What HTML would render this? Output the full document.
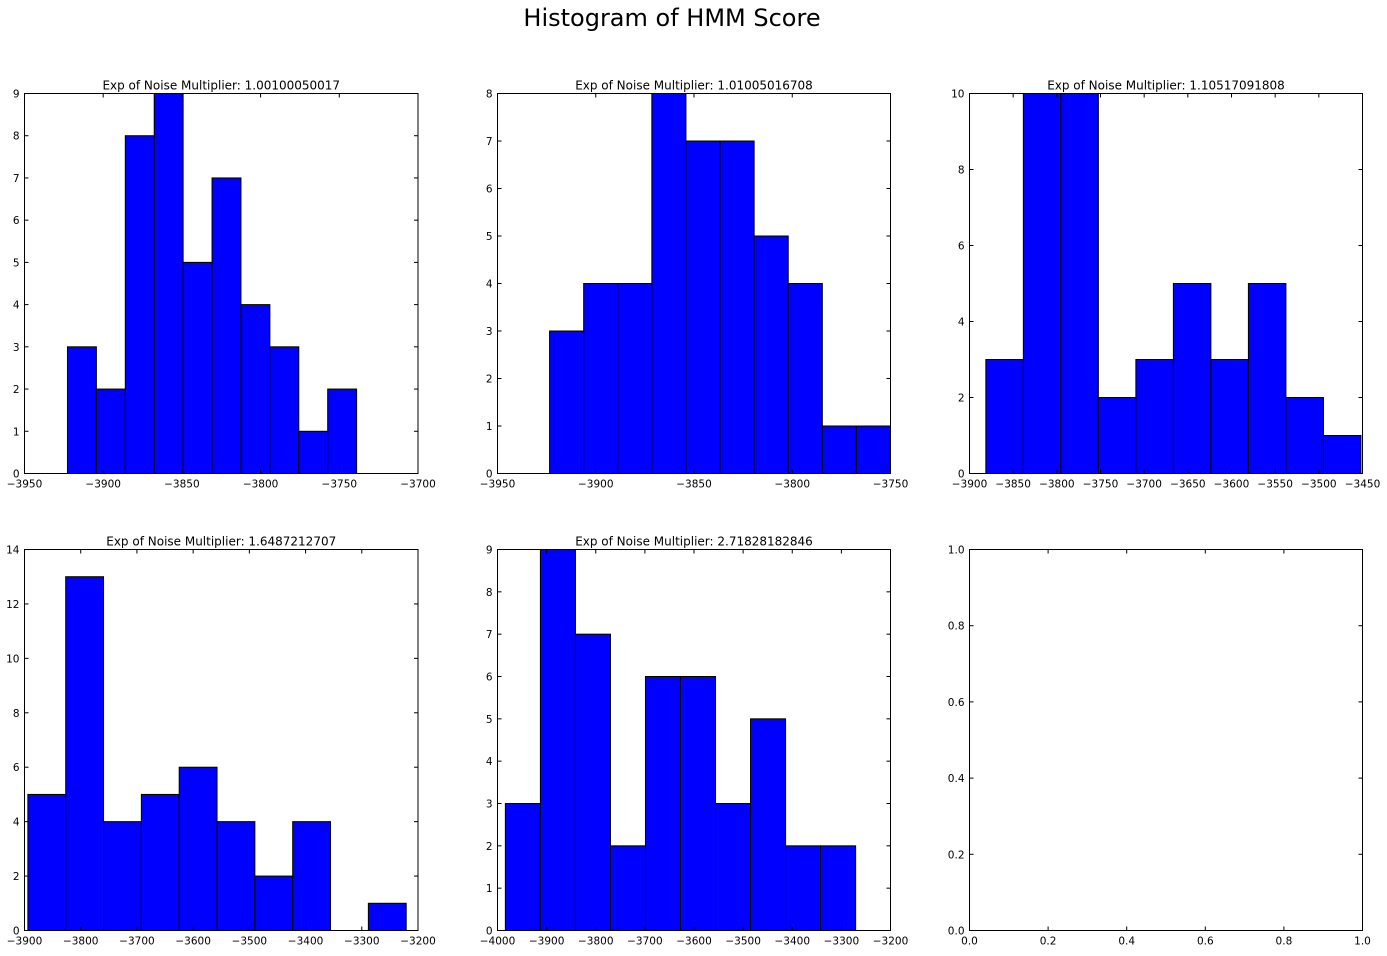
<!DOCTYPE html>
<html><head><meta charset="utf-8"><style>
body{margin:0;background:#fff;}
svg text{font-family:"DejaVu Sans","Liberation Sans",sans-serif;}
</style></head><body>
<svg id="fig" width="1387" height="951" xmlns="http://www.w3.org/2000/svg">
<rect width="1387" height="951" fill="#fff"/>
<text x="672" y="26" font-size="24" text-anchor="middle">Histogram of HMM Score</text>
</svg>
<script>
const titles = ["Exp of Noise Multiplier: 1.00100050017","Exp of Noise Multiplier: 1.01005016708","Exp of Noise Multiplier: 1.10517091808","Exp of Noise Multiplier: 1.6487212707","Exp of Noise Multiplier: 2.71828182846",""];
const counts1 = [3,2,8,9,5,7,4,3,1,2];
const counts2 = [3,4,4,8,7,7,5,4,1,1];
const counts3 = [3,10,10,2,3,5,3,5,2,1];
const counts4 = [5,13,4,5,6,4,2,4,0,1];
const counts5 = [3,9,7,2,6,6,3,5,2,2];
const binStart = [-3922.7,-3923.5,-3881.3,-3894,-3984];
const binEnd = [-3739,-3750,-3451.8,-3221,-3271];
const xTicks1 = [-3950,-3900,-3850,-3800,-3750,-3700];
const xTicks2 = [-3950,-3900,-3850,-3800,-3750];
const xTicks3 = [-3900,-3850,-3800,-3750,-3700,-3650,-3600,-3550,-3500,-3450];
const xTicks4 = [-3900,-3800,-3700,-3600,-3500,-3400,-3300,-3200];
const xTicks5 = [-4000,-3900,-3800,-3700,-3600,-3500,-3400,-3300,-3200];
const xTicks6 = [0.0,0.2,0.4,0.6,0.8,1.0];
const yTicks1 = [0,1,2,3,4,5,6,7,8,9];
const yTicks2 = [0,1,2,3,4,5,6,7,8];
const yTicks3 = [0,2,4,6,8,10];
const yTicks4 = [0,2,4,6,8,10,12,14];
const yTicks5 = [0,1,2,3,4,5,6,7,8,9];
const yTicks6 = [0.0,0.2,0.4,0.6,0.8,1.0];

const NS="http://www.w3.org/2000/svg";
const svg=document.getElementById('fig');
function mk(tag,attrs,parent){const e=document.createElementNS(NS,tag);for(const k in attrs)e.setAttribute(k,attrs[k]);(parent||svg).appendChild(e);return e;}
const boxes=[[24.5,93.5,418,473.5],[497.5,93.5,890.5,473.5],[969.5,93.5,1362.5,473.5],[24.5,549.5,418,930.5],[497.5,549.5,890.5,930.5],[969.5,549.5,1362.5,930.5]];
const allCounts=[counts1,counts2,counts3,counts4,counts5,null];
const allX=[xTicks1,xTicks2,xTicks3,xTicks4,xTicks5,xTicks6];
const allY=[yTicks1,yTicks2,yTicks3,yTicks4,yTicks5,yTicks6];
function fmt(v,dec){let s=dec?v.toFixed(1):String(v);return s.replace('-','\u2212');}
for(let i=0;i<6;i++){
  const [x0,y0,x1,y1]=boxes[i];
  const xt=allX[i],yt=allY[i];
  const xmin=xt[0],xmax=xt[xt.length-1],ymin=yt[0],ymax=yt[yt.length-1];
  const sx=v=>x0+(v-xmin)/(xmax-xmin)*(x1-x0);
  const sy=v=>y1-(v-ymin)/(ymax-ymin)*(y1-y0);
  const g=mk('g',{});
  
  
  const c=allCounts[i];
  if(c){
    const w=(binEnd[i]-binStart[i])/c.length;
    c.forEach((v,j)=>{
      if(v<=0)return;
      const a=sx(binStart[i]+j*w),b=sx(binStart[i]+(j+1)*w);
      const r=mk('rect',{x:a,y:sy(v),width:b-a,height:sy(0)-sy(v),fill:'#0000ff',stroke:'#000','stroke-width':1},g);
      
      
    });
  }
  const dec=i===5;
  xt.forEach(v=>{
    const x=sx(v);
    mk('line',{x1:x,y1:y1,x2:x,y2:y1-4,stroke:'#000'},g);
    mk('line',{x1:x,y1:y0,x2:x,y2:y0+4,stroke:'#000'},g);
    const t=mk('text',{x:x,y:y1+14,'font-size':10.5,'text-anchor':'middle'},g);
    t.textContent=fmt(v,dec);
    
    
  });
  yt.forEach(v=>{
    const y=sy(v);
    mk('line',{x1:x0,y1:y,x2:x0+4,y2:y,stroke:'#000'},g);
    mk('line',{x1:x1,y1:y,x2:x1-4,y2:y,stroke:'#000'},g);
    const t=mk('text',{x:x0-5,y:y+4,'font-size':10.5,'text-anchor':'end'},g);
    t.textContent=fmt(v,dec);
    
    
  });
  mk('rect',{x:x0,y:y0,width:x1-x0,height:y1-y0,fill:'none',stroke:'#000','stroke-width':1},g);
  if(titles[i]){
    const t=mk('text',{x:(x0+x1)/2,y:y0-4,'font-size':12,'text-anchor':'middle'},g);
    t.textContent=titles[i];
    
    
  }
}
</script>
</body></html>
